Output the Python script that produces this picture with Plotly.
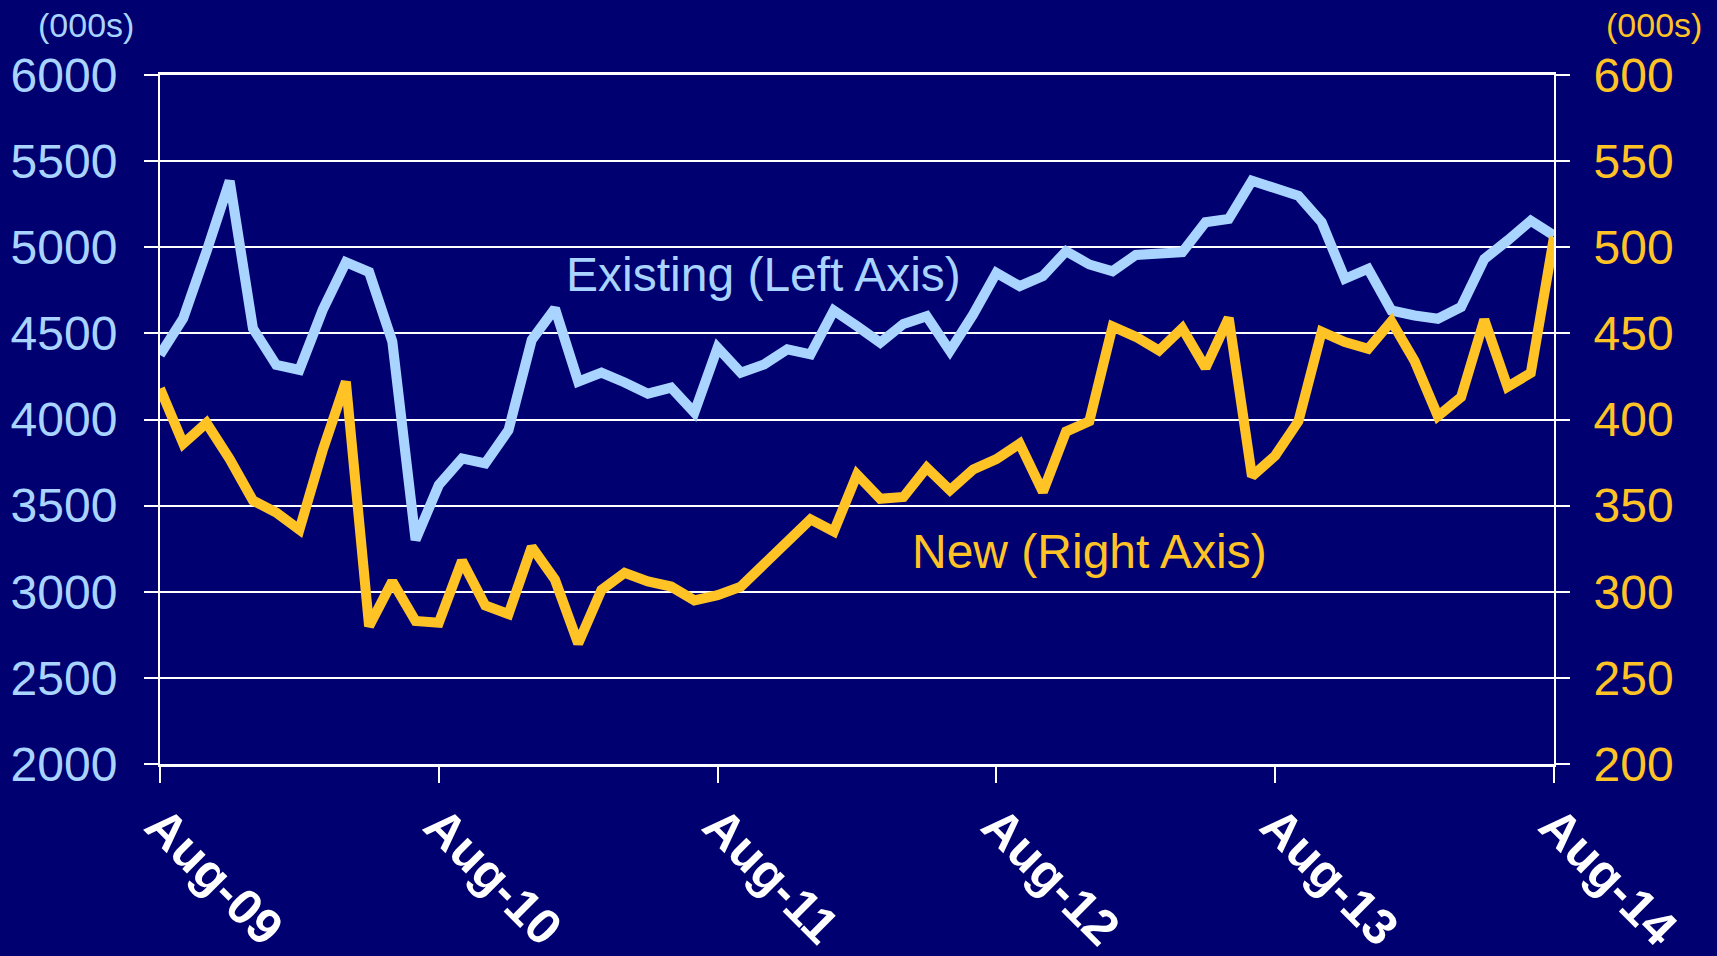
import pandas as pd
import plotly.graph_objects as go

months = list(pd.date_range("2009-08-01", "2014-08-01", freq="MS").strftime("%b-%y"))
tick_labels = ["Aug-09", "Aug-10", "Aug-11", "Aug-12", "Aug-13", "Aug-14"]

existing = [4375, 4587, 4975, 5385, 4529, 4317, 4288, 4635, 4913, 4856, 4452,
            3301, 3620, 3774, 3745, 3938, 4462, 4644, 4220,
            4272, 4215, 4150, 4185, 4040, 4417, 4272, 4320, 4407, 4378,
            4633, 4542, 4446, 4555, 4600, 4398, 4610, 4851, 4774, 4832,
            4977, 4900, 4861, 4955, 4965, 4971, 5145, 5164, 5386, 5338,
            5299, 5145, 4817, 4875, 4633, 4604, 4585, 4653, 4932, 5039, 5154, 5068]

new = [418, 386, 398, 377, 353, 346, 336, 382, 422, 280,
       306, 283, 282, 318, 292, 287, 326, 307, 270, 301,
       311, 306, 303, 295, 298, 303, 316, 329, 342, 335,
       368, 354, 355, 372, 359, 371, 377, 386, 358, 393,
       399, 454, 448, 440, 453, 430, 459, 367, 379, 399,
       451, 445, 441, 457, 434, 402, 413, 458, 419, 427, 506]

BG = "#000070"
BLUE = "#A8D4FF"
GOLD = "#FFC325"
FONT = "Liberation Sans, Arial, sans-serif"

fig = go.Figure()
fig.add_trace(go.Scatter(x=months, y=existing, mode="lines", name="Existing",
                         line=dict(color=BLUE, width=10), yaxis="y"))
fig.add_trace(go.Scatter(x=months, y=new, mode="lines", name="New",
                         line=dict(color=GOLD, width=10), yaxis="y2"))

fig.update_layout(
    width=1717, height=956,
    paper_bgcolor=BG, plot_bgcolor=BG,
    showlegend=False,
    margin=dict(l=160, r=163, t=75, b=192, autoexpand=False),
    xaxis=dict(
        type="category", range=[0, 60],
        tickmode="array", tickvals=tick_labels, ticktext=tick_labels,
        tickangle=45, ticks="outside", ticklen=16, tickwidth=1.5, tickcolor="white",
        showline=True, linecolor="white", linewidth=3, mirror=True,
        showgrid=False, zeroline=False,
        tickfont=dict(family=FONT, size=50, color="white", weight="bold"),
        ticklabelstandoff=-7,
    ),
    yaxis=dict(
        range=[2000, 6000], dtick=500, tick0=2000,
        showgrid=True, gridcolor="white", gridwidth=2,
        showline=True, linecolor="white", linewidth=2,
        ticks="outside", ticklen=14, tickwidth=2, tickcolor="white",
        zeroline=False,
        tickfont=dict(family=FONT, size=48, color=BLUE),
        ticklabelstandoff=17,
    ),
    yaxis2=dict(
        range=[200, 600], dtick=50, tick0=200,
        overlaying="y", side="right",
        showgrid=False,
        showline=True, linecolor="white", linewidth=2,
        ticks="outside", ticklen=14, tickwidth=2, tickcolor="white",
        zeroline=False,
        tickfont=dict(family=FONT, size=48, color=GOLD),
        ticklabelstandoff=14,
    ),
    annotations=[
        dict(text="Existing (Left Axis)", xref="paper", yref="paper", x=0.433, y=0.711,
             showarrow=False, font=dict(family=FONT, size=48, color=BLUE),
             xanchor="center", yanchor="middle"),
        dict(text="New (Right Axis)", xref="paper", yref="paper", x=0.667, y=0.309,
             showarrow=False, font=dict(family=FONT, size=48, color=GOLD),
             xanchor="center", yanchor="middle"),
        dict(text="(000s)", xref="paper", yref="paper", x=-0.053, y=1.073,
             showarrow=False, font=dict(family=FONT, size=34, color=BLUE),
             xanchor="center", yanchor="middle"),
        dict(text="(000s)", xref="paper", yref="paper", x=1.0717, y=1.073,
             showarrow=False, font=dict(family=FONT, size=34, color=GOLD),
             xanchor="center", yanchor="middle"),
    ],
)

fig.write_html("out.html", config={"displayModeBar": False},
               post_script="document.body.style.margin='0';")
